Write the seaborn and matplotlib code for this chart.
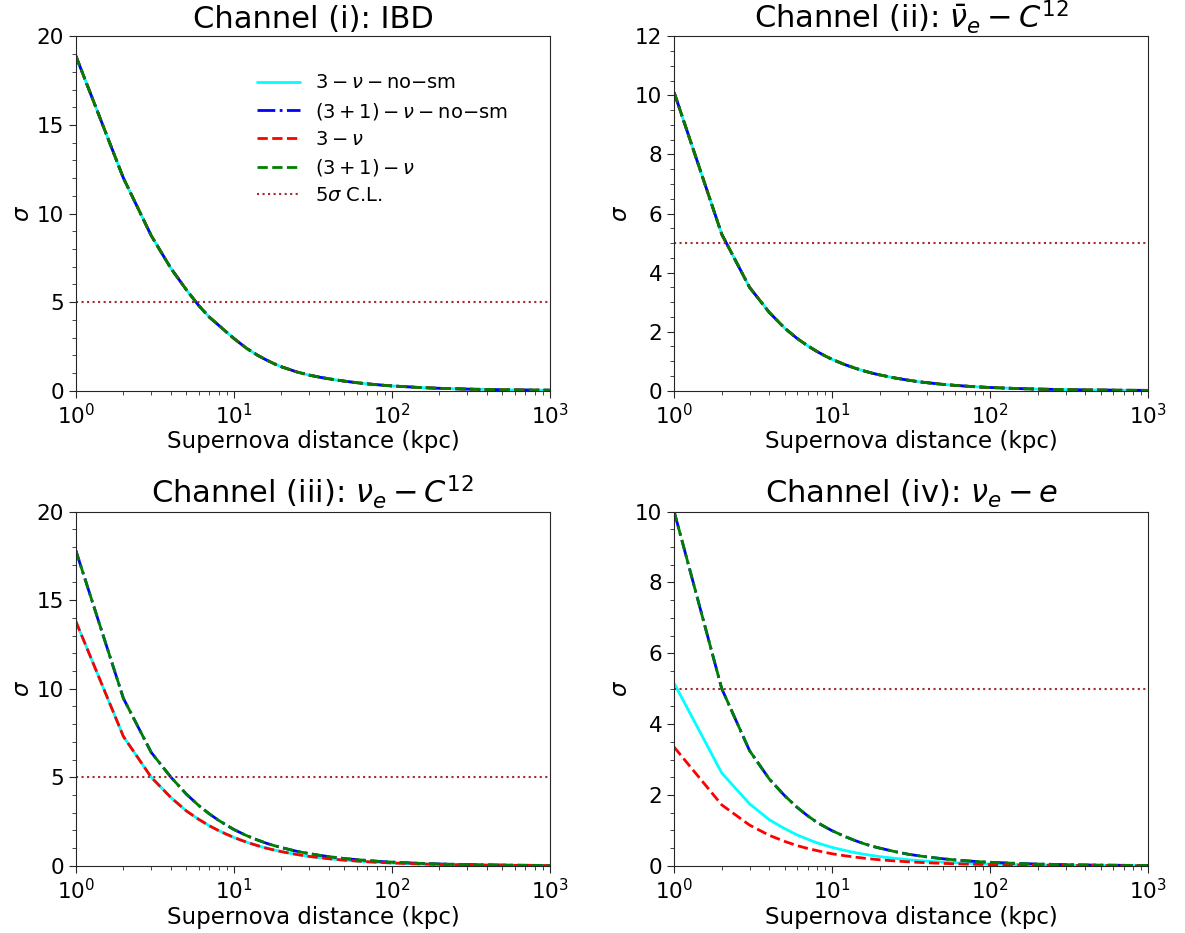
import numpy as np
import pandas as pd
import matplotlib
matplotlib.use('Agg')
import matplotlib.pyplot as plt
import seaborn as sns
from matplotlib.ticker import AutoMinorLocator, MultipleLocator


# 1. DATA

DIST = [1, 2, 3, 4, 5, 6, 7, 8, 9, 10,
        12, 14, 16, 18, 20, 25, 30, 35, 40,
        50, 60, 70, 80, 90, 100, 150, 200,
        300, 400, 500, 600, 700, 800, 900, 1000]

# Channel (i): IBD -- all four scenarios coincide
IBD_ALL = [18.9, 12.0, 8.75, 6.9, 5.7, 4.8, 4.15, 3.7, 3.3, 2.95,
           2.4, 2.02, 1.74, 1.52, 1.35, 1.06, 0.88, 0.76, 0.67,
           0.54, 0.45, 0.385, 0.34, 0.3, 0.27, 0.18, 0.135,
           0.09, 0.068, 0.054, 0.045, 0.039, 0.034, 0.03, 0.027]

# Channel (ii): anti-nu_e - C12 -- all four scenarios coincide
NUBAR_C12_ALL = [10.1, 5.3, 3.5, 2.65, 2.12, 1.77, 1.52, 1.33, 1.18, 1.06,
                 0.885, 0.76, 0.665, 0.59, 0.535, 0.43, 0.36, 0.305, 0.27,
                 0.215, 0.18, 0.155, 0.135, 0.12, 0.108, 0.072, 0.054,
                 0.036, 0.027, 0.022, 0.018, 0.015, 0.013, 0.012, 0.011]

# Channel (iii): nu_e - C12
NUE_C12_3NU = [13.8, 7.3, 5.0, 3.85, 3.1, 2.62, 2.26, 1.99, 1.78, 1.6,
               1.34, 1.15, 1.0, 0.89, 0.8, 0.64, 0.53, 0.46, 0.4,
               0.32, 0.27, 0.23, 0.2, 0.18, 0.16, 0.107, 0.08,
               0.053, 0.04, 0.032, 0.027, 0.023, 0.02, 0.018, 0.016]
NUE_C12_31NU = [17.8, 9.45, 6.4, 5.0, 4.05, 3.4, 2.93, 2.57, 2.29, 2.05,
                1.71, 1.47, 1.28, 1.14, 1.03, 0.82, 0.69, 0.59, 0.52,
                0.41, 0.35, 0.3, 0.26, 0.23, 0.21, 0.14, 0.105,
                0.07, 0.052, 0.042, 0.035, 0.03, 0.026, 0.023, 0.021]

# Channel (iv): nu_e - e
NUE_E_3NU_NOSM = [5.15, 2.62, 1.75, 1.3, 1.05, 0.87, 0.75, 0.65, 0.58, 0.52,
                  0.435, 0.37, 0.325, 0.29, 0.26, 0.21, 0.175, 0.15, 0.13,
                  0.105, 0.087, 0.075, 0.065, 0.058, 0.052, 0.035, 0.026,
                  0.017, 0.013, 0.01, 0.009, 0.0075, 0.0065, 0.0058, 0.0052]
NUE_E_3NU = [3.35, 1.72, 1.15, 0.86, 0.69, 0.57, 0.49, 0.43, 0.38, 0.34,
             0.285, 0.245, 0.215, 0.19, 0.17, 0.137, 0.115, 0.098, 0.086,
             0.069, 0.057, 0.049, 0.043, 0.038, 0.034, 0.023, 0.017,
             0.011, 0.0086, 0.0069, 0.0057, 0.0049, 0.0043, 0.0038, 0.0034]
NUE_E_31NU = [10.0, 5.0, 3.25, 2.45, 1.98, 1.65, 1.41, 1.23, 1.1, 0.99,
              0.83, 0.71, 0.62, 0.55, 0.5, 0.4, 0.33, 0.285, 0.25,
              0.2, 0.167, 0.143, 0.125, 0.111, 0.1, 0.067, 0.05,
              0.033, 0.025, 0.02, 0.017, 0.014, 0.0125, 0.011, 0.01]

CL_SIGMA = 5

TITLES = ['Channel (i): IBD',
          r'Channel (ii): $\bar{\nu}_e - C^{12}$',
          r'Channel (iii): $\nu_e - C^{12}$',
          r'Channel (iv): $\nu_e - e$']

# order inside each panel: 3nu-no-sm, (3+1)nu-no-sm, 3nu, (3+1)nu
PANELS = [
    [IBD_ALL, IBD_ALL, IBD_ALL, IBD_ALL],
    [NUBAR_C12_ALL, NUBAR_C12_ALL, NUBAR_C12_ALL, NUBAR_C12_ALL],
    [NUE_C12_3NU, NUE_C12_31NU, NUE_C12_3NU, NUE_C12_31NU],
    [NUE_E_3NU_NOSM, NUE_E_31NU, NUE_E_3NU, NUE_E_31NU],
]
Y_MAX = [20, 12, 20, 10]
Y_STEP = [5, 2, 5, 2]

LABELS = [r'$3-\nu-\mathrm{no}{-}\mathrm{sm}$',
          r'$(3+1)-\nu-\mathrm{no}{-}\mathrm{sm}$',
          r'$3-\nu$',
          r'$(3+1)-\nu$']
COLORS = ['cyan', 'blue', 'red', 'green']
STYLES = ['-', '-.', '--', '--']


# 2. PLOT

sns.set_style('ticks')
plt.rcParams['font.family'] = ['DejaVu Sans']
plt.rcParams['mathtext.fontset'] = 'dejavusans'
for key in ['text.color', 'axes.labelcolor', 'xtick.labelcolor', 'ytick.labelcolor']:
    plt.rcParams[key] = 'black'

fig, axes = plt.subplots(2, 2, figsize=(11.85, 9.33), dpi=100)
fig.subplots_adjust(left=0.064, right=0.969, bottom=0.072, top=0.961,
                    wspace=0.262, hspace=0.341)

for i, ax in enumerate(axes.flat):
    for series, lab, col, ls in zip(PANELS[i], LABELS, COLORS, STYLES):
        df = pd.DataFrame({'d': DIST, 'sigma': series})
        sns.lineplot(data=df, x='d', y='sigma', ax=ax, color=col,
                     linestyle=ls, linewidth=2, label=lab, legend=False)
    ax.axhline(CL_SIGMA, color='brown', linestyle=':', linewidth=1.5,
               label=r'5$\sigma$ C.L.')

    ax.set_xscale('log')
    ax.set_xlim(1, 1000)
    ax.set_ylim(0, Y_MAX[i])
    ax.yaxis.set_major_locator(MultipleLocator(Y_STEP[i]))
    ax.yaxis.set_minor_locator(AutoMinorLocator())
    ax.tick_params(axis='both', which='major', labelsize=15.5, length=5)
    ax.tick_params(axis='both', which='minor', length=3)

    ax.set_title(TITLES[i], fontsize=22)
    ax.set_xlabel('Supernova distance (kpc)', fontsize=16.5, labelpad=2)
    ax.set_ylabel(r'$\sigma$', fontsize=16.5, labelpad=2)

axes[0, 0].legend(loc='upper left', bbox_to_anchor=(0.345, 0.945),
                  frameon=False, fontsize=14, handlelength=2.2,
                  labelspacing=0.42)

fig.savefig('out.png', dpi=100)
